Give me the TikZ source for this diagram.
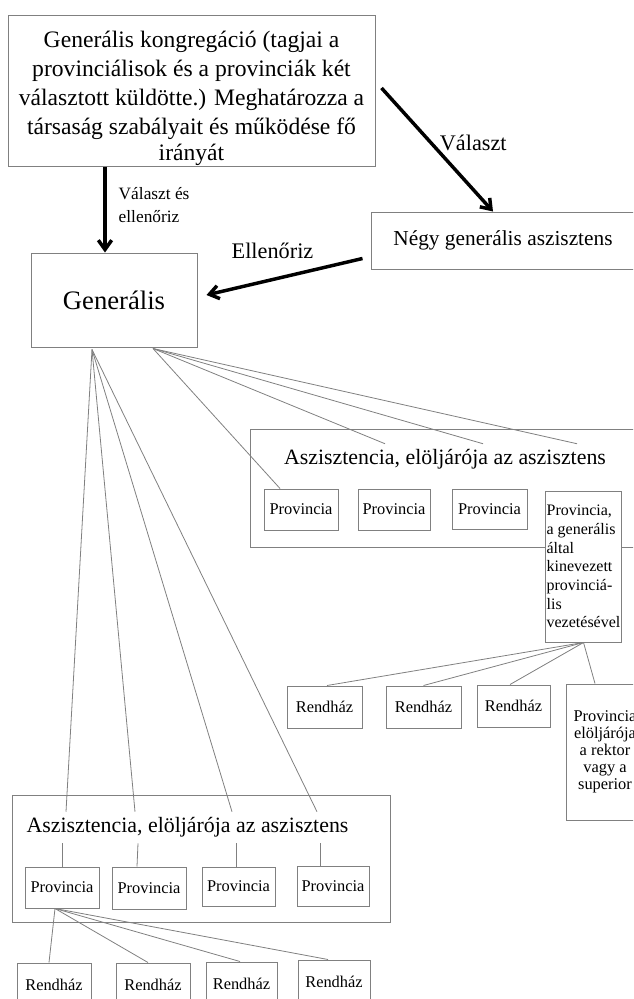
\documentclass[tikz,border=0pt]{standalone}
\usepackage{fontspec}
\setmainfont{Liberation Serif}
\usetikzlibrary{arrows.meta}
\definecolor{boxgray}{gray}{0.5}
\tikzset{
	box/.style={draw=boxgray, line width=0.75pt, fill=white, inner sep=1pt, align=center},
	sz/.style 2 args={minimum width=#1*0.75pt, minimum height=#2*0.75pt},
	link/.style={draw=boxgray, line width=0.6pt},
	arr/.style={line width=2.6pt, -{Straight Barb[length=7pt,width=10pt]}},
	small/.style={font=\fontsize{12.3}{14}\selectfont},
	title/.style={inner sep=0pt, minimum height=31*0.75pt, font=\fontsize{16.4}{19}\selectfont},
}
\begin{document}
\begin{tikzpicture}[x=0.75pt,y=-0.75pt]
				\useasboundingbox (0,0) rectangle (633,999);
				\clip (0,0) rectangle (633,999);
				\node[box, inner ysep=0pt, sz={367}{150}, font=\fontsize{17.7}{21.75}\selectfont] (kongr) at (191.5,91) {\rule{0pt}{23.7pt}Generális kongregáció (tagjai a\\ provinciálisok és a provinciák két\\ választott küldötte.) Meghatározza a\\ társaság szabályait és működése fő\\[-2pt] irányát};
				\node[box, sz={166}{94}, font=\fontsize{20}{24}\selectfont] (gen) at (114,300) {Generális};
				\node[box, sz={264}{57}, font=\fontsize{16}{19}\selectfont] (negy) at (503,240.5) {Négy generális aszisztens};
				\draw[arr] (kongr.south -| 105,0) to node[pos=0.5, anchor=west, xshift=9pt, yshift=3.4pt, align=left, inner sep=0pt, font=\fontsize{13}{17}\selectfont] {Választ és\\ ellenőriz} (gen.north -| 105,0);
				\draw[arr] ([shift={(6,-3)}]kongr.east) to node[pos=0.5, shift={(36,-7)}, font=\fontsize{16.7}{19}\selectfont] {Választ} (negy.north -| 493,0);
				\draw[arr] ([shift={(-8,-11)}]negy.south west) to node[pos=0.5, shift={(-12,-26)}, font=\fontsize{16.7}{19}\selectfont] {Ellenőriz} ([shift={(9,-5)}]gen.east);
				\coordinate[shift={(-22,2)}] (genA) at (gen.south);
				\coordinate[shift={(39,1)}] (genB) at (gen.south);
				% felso asszisztencia
				\node[box, sz={390}{118}] (asz1) at (445,488) {};
				\node[title] (tit1) at (445,459.5) {Aszisztencia, elöljárója az aszisztens};
				\node[box, small, sz={74}{41}] (p11) at (301,509.5) {Provincia};
				\node[box, small, sz={72}{41}] (p12) at (394,509.5) {Provincia};
				\node[box, small, sz={75}{40}] (p13) at (489.5,509) {Provincia};
				\node[box, sz={73}{151}, align=left, inner xsep=0.5pt, font=\fontsize{12}{14}\selectfont] (p14) at (583.5,566.5) {Provincia,\\ a generális\\ által\\ kinevezett\\ provinciá-\\ lis\\ vezetésével};
				\node[box, small, sz={75}{42}] (r11) at (324.5,707) {Rendház};
				\node[box, small, sz={75}{42}] (r12) at (423.5,707) {Rendház};
				\node[box, small, sz={73}{42}] (r13) at (513.5,706) {Rendház};
				\node[box, sz={78}{136}, font=\fontsize{12.3}{12.75}\selectfont] (r14) at (605,752) {Provincia\\ elöljárója\\ a rektor\\ vagy a\\ superior};
				\draw[link] (genB) to (p11.north -| 280,0);
				\draw[link] (genB) to (tit1.north -| 385,0);
				\draw[link] (genB) to (tit1.north -| 483,0);
				\draw[link] (genB) to (tit1.north -| 577,0);
				\draw[link] (p14.south) to (r11.north -| 327,0);
				\draw[link] (p14.south) to (r12.north);
				\draw[link] (p14.south) to (r13.north -| 510,0);
				\draw[link] (p14.south) to (r14.north -| 595,0);
				% also asszisztencia
				\node[box, sz={378}{127}] (asz2) at (201,858.5) {};
				\node[title] (tit2) at (187.5,827.5) {Aszisztencia, elöljárója az aszisztens};
				\node[box, small, sz={74}{41}] (p21) at (62,887.5) {Provincia};
				\node[box, small, sz={74}{42}] (p22) at (149,888) {Provincia};
				\node[box, small, sz={73}{39}] (p23) at (238.5,886.5) {Provincia};
				\node[box, small, sz={72}{40}] (p24) at (333,886) {Provincia};
				\node[box, small, sz={74}{44}] (r21) at (54,985) {Rendház};
				\node[box, small, sz={74}{44}] (r22) at (153,985) {Rendház};
				\node[box, small, sz={71}{44}] (r23) at (241.5,984) {Rendház};
				\node[box, small, sz={72}{44}] (r24) at (334,982) {Rendház};
				\draw[link] (genA) to (tit2.north -| 66,0);
				\draw[link] (genA) to (tit2.north -| 135,0);
				\draw[link] (genA) to (tit2.north -| 232,0);
				\draw[link] (genA) to (tit2.north -| 317,0);
				\draw[link] (tit2.south -| p21.north) to (p21.north);
				\draw[link] (tit2.south -| 138,0) to (p22.north -| 137,0);
				\draw[link] (tit2.south -| 236,0) to (p23.north -| 236,0);
				\draw[link] (tit2.south -| 320,0) to (p24.north -| 320,0);
				\draw[link] (p21.south -| 55,0) to (r21.north -| 49,0);
				\draw[link] (p21.south -| 55,0) to (r22.north -| 148,0);
				\draw[link] (p21.south -| 55,0) to (r23.north -| 240,0);
				\draw[link] (p21.south -| 55,0) to (r24.north -| 328,0);
			\end{tikzpicture}
\end{document}
